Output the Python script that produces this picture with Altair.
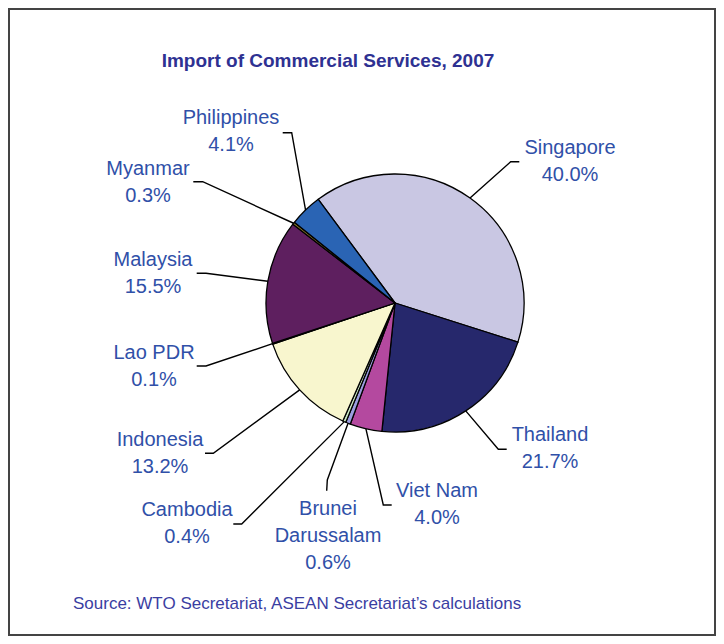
import math
import altair as alt
import pandas as pd

# ---- data ----
countries = ["Singapore", "Thailand", "Viet Nam", "Brunei Darussalam", "Cambodia",
             "Indonesia", "Lao PDR", "Malaysia", "Myanmar", "Philippines"]
shares = [40.0, 21.7, 4.0, 0.6, 0.4, 13.2, 0.1, 15.5, 0.3, 4.1]
label_names = [["Singapore"], ["Thailand"], ["Viet Nam"], ["Brunei", "Darussalam"],
               ["Cambodia"], ["Indonesia"], ["Lao PDR"], ["Malaysia"], ["Myanmar"],
               ["Philippines"]]
title_text = "Import of Commercial Services, 2007"
source_text = "Source: WTO Secretariat, ASEAN Secretariat\u2019s calculations"

# ---- styles ----
slice_colors = ["#C9C7E3", "#26286C", "#B4499F", "#9C9EE0", "#CBE8C4",
                "#F8F6CE", "#3A2A10", "#5E1F5F", "#8C7A2A", "#2A64B4"]
LABEL_COLOR = "#3050A8"
TITLE_COLOR = "#2E3192"
FONT = "Liberation Sans"

# ---- layout (page pixel coordinates) ----
OFF = 8
W, H = 708, 628
PIE_CX, PIE_CY, PIE_R = 395, 303, 129
START_DEG = -36.5
# label: (centre x, first baseline y); leader: (elbow x, elbow y, end x, end y)
label_pos = [(570, 153.5), (550, 441), (437, 497), (328, 515), (187, 516),
             (160, 446), (154, 358.5), (153, 266), (148, 175), (231, 124)]
leader_pts = [(510.7, 161.7, 519.3, 161.7), (498.3, 449.3, 506.7, 449.3),
              (383.3, 505, 391.7, 505), (327.3, 480, 326.7, 490.7),
              (241.7, 524, 233.3, 524), (213.3, 453.3, 205, 453.3),
              (206, 366, 196.7, 366), (206, 273.3, 196.7, 273.3),
              (202.7, 181.7, 193.3, 181.7), (291.7, 132.7, 282.7, 132.7)]
LINE_H = 27

total = sum(shares)
start_rad = math.radians(START_DEG)

pie_df = pd.DataFrame({"country": countries, "share": shares,
                       "idx": list(range(len(countries)))})

# leader lines: start at slice mid-angle on the pie edge
rows = []
cum = 0.0
for i, (c, s) in enumerate(zip(countries, shares)):
    mid = start_rad + (cum + s / 2) / total * 2 * math.pi
    cum += s
    ex = PIE_CX + PIE_R * math.sin(mid)
    ey = PIE_CY - PIE_R * math.cos(mid)
    bx, by, tx, ty = leader_pts[i]
    for k, (px, py) in enumerate([(ex, ey), (bx, by), (tx, ty)]):
        rows.append({"country": c, "k": k, "x": px - OFF, "y": py - OFF})
leader_df = pd.DataFrame(rows)

lab_rows = []
for i, (c, s) in enumerate(zip(countries, shares)):
    lines = label_names[i] + [f"{s:.1f}%"]
    lx, ly = label_pos[i]
    for j, t in enumerate(lines):
        lab_rows.append({"text": t, "x": lx - OFF, "y": ly - OFF + j * LINE_H})
label_df = pd.DataFrame(lab_rows)

xs = alt.Scale(domain=[0, W], range=[0, W], nice=False, zero=False)
ys = alt.Scale(domain=[0, H], range=[0, H], nice=False, zero=False)

frame = alt.Chart(pd.DataFrame({"f": [0]})).mark_rect(
    fill=None, stroke="#444444", strokeWidth=2
).encode(x=alt.value(1), x2=alt.value(W - 1), y=alt.value(1), y2=alt.value(H - 1))

pie = alt.Chart(pie_df).mark_arc(stroke="black", strokeWidth=1.3, radius=PIE_R).encode(
    theta=alt.Theta("share:Q", stack=True,
                    scale=alt.Scale(domain=[0, total], range=[start_rad, start_rad + 2 * math.pi])),
    order=alt.Order("idx:Q"),
    color=alt.Color("country:N", legend=None,
                    scale=alt.Scale(domain=countries, range=slice_colors)),
    x=alt.value(PIE_CX - OFF),
    y=alt.value(PIE_CY - OFF),
)

leaders = alt.Chart(leader_df).mark_line(color="black", strokeWidth=1.4).encode(
    x=alt.X("x:Q", scale=xs, axis=None),
    y=alt.Y("y:Q", scale=ys, axis=None),
    detail="country:N",
    order="k:Q",
)

labels = alt.Chart(label_df).mark_text(
    font=FONT, fontSize=20, color=LABEL_COLOR, align="center", baseline="alphabetic"
).encode(
    x=alt.X("x:Q", scale=xs, axis=None),
    y=alt.Y("y:Q", scale=ys, axis=None),
    text="text:N",
)

title_df = pd.DataFrame({"text": [title_text], "x": [328 - OFF], "y": [66.5 - OFF]})
title = alt.Chart(title_df).mark_text(
    font=FONT, fontSize=19, fontWeight="bold", color=TITLE_COLOR,
    align="center", baseline="alphabetic"
).encode(x=alt.X("x:Q", scale=xs, axis=None), y=alt.Y("y:Q", scale=ys, axis=None), text="text:N")

src_df = pd.DataFrame({"text": [source_text], "x": [73 - OFF], "y": [609 - OFF]})
source = alt.Chart(src_df).mark_text(
    font=FONT, fontSize=17, color="#3A3EA2", align="left", baseline="alphabetic"
).encode(x=alt.X("x:Q", scale=xs, axis=None), y=alt.Y("y:Q", scale=ys, axis=None), text="text:N")

chart = alt.layer(frame, leaders, pie, labels, title, source).properties(
    width=W, height=H, padding=0, autosize=alt.AutoSizeParams(type="none")
).configure_view(stroke=None).configure(background="white")

chart.save("out.html", embed_options={"renderer": "svg", "actions": False})
